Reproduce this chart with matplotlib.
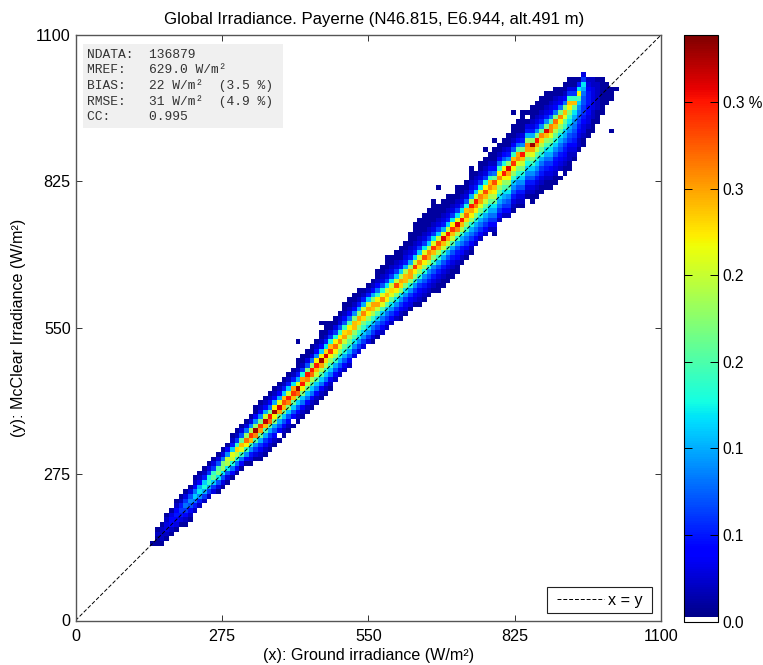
import numpy as np
import matplotlib
matplotlib.use("Agg")
import matplotlib.pyplot as plt
from matplotlib.colors import ListedColormap

plt.rcParams['font.family'] = ['Liberation Sans', 'DejaVu Sans']

bin_w = 8.8
n_bins = 125
first_col = 16

# offset of first cell from the diagonal, one per column
col_lo = [0, -1, -2, -2, -2, -2, -2, -3, -3, -2, -2, -2, -2, -2, -3, -3, -3, -3, -3, -3,
          -3, -4, -4, -5, -5, -5, -5, -5, -5, -5, -5, -5, -5, -5, -5, -5, -5, -5, -5,
          -4, -4, -4, -4, -3, -3, -3, -3, -4, -4, -4, -4, -4, -4, -5, -5, -5, -5,
          -6, -6, -6, -6, -7, -7, -7, -7, -7, -6, -6, -6, -5, -5, -5, -5, -7, -5, -5, -6,
          -6, -6, -7, -6, -8, -8, -8, -8, -9, -9, -9, -9, -9, -8, -7, -7, -6, -6, -5, -4,
          -3, -3, -2]

# cell values per column, in 0.01 %, bottom to top
col_vals = [
    [1], [1, 1, 2, 1], [1, 2, 2, 2, 1], [1, 2, 3, 3, 2, 1], [1, 2, 4, 4, 3, 1],
    [1, 3, 4, 5, 4, 2, 1], [1, 3, 5, 6, 5, 2, 1], [1, 2, 4, 6, 8, 6, 3, 1], [1, 2, 4, 7, 9, 7, 3, 1],
    [2, 5, 8, 11, 8, 4, 2, 1], [2, 5, 9, 12, 10, 4, 2, 1], [2, 6, 10, 13, 11, 5, 2, 1],
    [2, 6, 10, 14, 13, 6, 3, 1], [3, 6, 11, 16, 14, 6, 3, 1], [1, 3, 7, 12, 17, 15, 7, 3, 1],
    [1, 3, 7, 12, 18, 17, 8, 3, 1], [1, 3, 7, 12, 19, 20, 9, 4, 1], [1, 4, 8, 13, 20, 21, 11, 5, 2, 1],
    [1, 4, 8, 13, 19, 23, 14, 6, 2, 1], [1, 4, 8, 14, 21, 24, 16, 7, 3, 1], [1, 4, 9, 14, 22, 27, 18, 8, 3, 1],
    [1, 3, 5, 9, 14, 24, 29, 19, 9, 3, 1], [1, 3, 6, 9, 15, 26, 33, 18, 9, 4, 1, 1],
    [1, 2, 4, 6, 10, 16, 25, 29, 17, 9, 4, 2, 1], [1, 2, 4, 6, 10, 15, 24, 32, 20, 10, 4, 2, 1],
    [1, 2, 4, 6, 10, 16, 27, 30, 17, 8, 4, 2, 1], [1, 2, 4, 7, 10, 17, 22, 33, 22, 10, 4, 2, 1],
    [1, 2, 4, 7, 10, 16, 25, 31, 21, 10, 4, 2, 1], [1, 2, 4, 7, 11, 17, 24, 28, 24, 11, 5, 2, 1],
    [1, 2, 4, 7, 11, 17, 26, 30, 20, 11, 5, 2, 1], [1, 2, 4, 7, 11, 16, 24, 29, 25, 12, 5, 2, 1],
    [1, 2, 4, 7, 11, 17, 27, 33, 21, 10, 5, 2, 1, 1], [1, 2, 4, 8, 11, 17, 22, 30, 25, 13, 6, 2, 1, 1],
    [1, 2, 4, 8, 11, 16, 20, 26, 30, 17, 7, 3, 1, 1], [1, 2, 4, 8, 11, 15, 19, 27, 30, 18, 8, 3, 1, 1],
    [1, 2, 4, 8, 11, 15, 20, 24, 30, 22, 9, 4, 2, 1], [1, 2, 4, 8, 11, 15, 19, 25, 33, 22, 11, 4, 2, 1, 1],
    [1, 2, 4, 8, 11, 14, 19, 23, 31, 23, 12, 5, 2, 1, 1], [1, 2, 4, 8, 11, 14, 18, 22, 29, 24, 13, 6, 3, 1, 1],
    [2, 4, 7, 10, 14, 18, 22, 27, 22, 13, 6, 3, 1, 1], [2, 4, 7, 10, 13, 17, 21, 26, 22, 14, 7, 3, 2, 1],
    [2, 4, 7, 10, 13, 16, 20, 25, 23, 14, 7, 4, 2, 1, 1], [2, 4, 7, 10, 13, 16, 19, 24, 22, 15, 8, 4, 2, 1, 1],
    [3, 6, 9, 12, 15, 18, 24, 24, 17, 9, 4, 2, 1, 1], [3, 6, 9, 12, 14, 18, 23, 25, 18, 10, 5, 2, 1, 1],
    [3, 6, 9, 11, 14, 17, 23, 26, 20, 10, 5, 2, 1], [3, 6, 9, 11, 14, 18, 22, 25, 20, 11, 5, 2, 1],
    [1, 3, 6, 8, 11, 14, 19, 24, 25, 17, 10, 4, 2, 1], [1, 3, 6, 8, 11, 15, 20, 25, 22, 14, 8, 4, 2, 1, 1],
    [2, 4, 6, 8, 11, 15, 21, 26, 21, 13, 7, 3, 2, 1, 1], [2, 4, 6, 8, 11, 16, 22, 24, 20, 12, 6, 3, 2, 1, 1, 1],
    [2, 4, 6, 9, 12, 16, 21, 23, 20, 12, 6, 3, 2, 1, 1], [2, 4, 6, 9, 12, 17, 22, 28, 20, 11, 6, 3, 2, 1, 1],
    [1, 2, 4, 6, 9, 12, 18, 23, 25, 19, 11, 5, 3, 1, 1, 1], [1, 3, 4, 6, 9, 12, 17, 24, 24, 19, 10, 5, 3, 2, 1, 1],
    [1, 3, 4, 6, 9, 13, 18, 25, 25, 18, 10, 5, 3, 2, 1, 1, 1], [1, 3, 4, 6, 9, 13, 18, 22, 29, 20, 11, 5, 3, 2, 1, 1, 1, 1],
    [1, 2, 3, 4, 6, 9, 13, 18, 23, 26, 20, 11, 6, 3, 2, 1, 1, 1, 1],
    [1, 2, 3, 5, 7, 9, 13, 18, 22, 28, 21, 12, 6, 3, 2, 1, 1, 1, 1],
    [1, 2, 3, 5, 7, 9, 13, 19, 25, 26, 19, 11, 6, 3, 2, 1, 1, 1, 1],
    [1, 2, 3, 5, 7, 9, 14, 18, 24, 29, 21, 12, 6, 3, 2, 1, 1, 1, 1],
    [1, 1, 2, 3, 5, 7, 10, 14, 19, 25, 28, 20, 11, 6, 3, 2, 1, 1, 1],
    [1, 1, 2, 3, 5, 7, 10, 14, 20, 24, 31, 21, 10, 5, 3, 2, 1, 1, 1],
    [1, 1, 2, 3, 5, 7, 10, 15, 20, 25, 30, 20, 11, 5, 3, 2, 1, 1, 1],
    [1, 1, 2, 3, 5, 7, 10, 15, 20, 24, 29, 22, 12, 6, 3, 2, 1, 1],
    [1, 1, 2, 4, 5, 7, 10, 14, 19, 26, 31, 21, 12, 6, 3, 2, 1, 1, 1],
    [1, 2, 4, 5, 8, 10, 14, 19, 24, 30, 20, 12, 6, 3, 2, 1, 1],
    [1, 2, 4, 6, 8, 10, 14, 18, 23, 27, 24, 13, 7, 3, 2, 1, 1],
    [1, 2, 4, 6, 8, 10, 13, 18, 22, 25, 30, 19, 10, 5, 3, 2, 1, 1],
    [2, 4, 6, 8, 10, 13, 17, 22, 26, 30, 20, 11, 5, 3, 2, 1],
    [2, 4, 6, 8, 10, 13, 17, 21, 25, 26, 21, 12, 6, 3, 2, 1, 1],
    [2, 4, 6, 8, 10, 13, 16, 20, 24, 28, 22, 13, 6, 3, 2, 1, 1],
    [2, 4, 6, 8, 10, 12, 16, 19, 23, 26, 24, 14, 7, 4, 2, 1, 1],
    [1, 2, 4, 6, 8, 10, 12, 16, 19, 22, 24, 28, 16, 8, 4, 2, 1, 1, 1],
    [2, 4, 6, 8, 10, 12, 15, 18, 22, 26, 22, 14, 8, 4, 2, 1, 1],
    [2, 4, 6, 8, 10, 12, 15, 18, 22, 30, 22, 13, 7, 4, 2, 1, 1],
    [2, 4, 6, 7, 9, 12, 15, 18, 22, 25, 31, 18, 9, 5, 3, 1, 1, 1],
    [1, 2, 3, 5, 7, 9, 11, 14, 18, 22, 29, 24, 14, 7, 4, 2, 1, 1, 1],
    [1, 2, 3, 5, 7, 9, 11, 14, 17, 21, 26, 25, 15, 8, 4, 2, 1, 1, 1],
    [1, 2, 3, 5, 7, 9, 11, 13, 17, 20, 24, 30, 17, 9, 5, 3, 1, 1, 1, 1, 1],
    [1, 2, 3, 5, 7, 9, 11, 13, 16, 20, 25, 26, 18, 10, 5, 3, 1, 1, 1],
    [1, 1, 2, 3, 5, 7, 9, 11, 14, 17, 21, 25, 33, 18, 10, 5, 3, 2, 1, 1, 1],
    [1, 1, 2, 3, 5, 7, 9, 11, 13, 16, 20, 25, 30, 17, 9, 5, 3, 2, 1, 1, 1],
    [1, 1, 2, 3, 5, 6, 8, 10, 13, 16, 19, 23, 26, 16, 9, 5, 3, 2, 1, 1, 1],
    [1, 1, 2, 3, 5, 6, 8, 10, 12, 15, 18, 24, 31, 17, 9, 5, 3, 2, 1, 1, 1],
    [1, 1, 2, 3, 4, 6, 8, 10, 12, 14, 17, 21, 26, 26, 15, 8, 4, 3, 2, 1, 1],
    [1, 1, 2, 3, 4, 5, 7, 9, 11, 13, 16, 19, 24, 27, 17, 8, 4, 3, 2, 1, 1],
    [1, 1, 2, 3, 4, 5, 7, 8, 10, 12, 15, 18, 22, 26, 17, 8, 4, 3, 1, 1],
    [1, 1, 2, 3, 4, 5, 6, 8, 10, 11, 14, 16, 21, 24, 17, 8, 4, 2, 1, 1],
    [1, 1, 2, 2, 3, 4, 6, 7, 9, 10, 12, 14, 17, 22, 24, 14, 6, 3, 1, 1],
    [1, 2, 3, 4, 5, 6, 7, 8, 9, 10, 12, 16, 24, 14, 6, 3, 1, 1],
    [1, 2, 2, 3, 4, 5, 6, 7, 8, 9, 11, 15, 22, 12, 5, 2],
    [1, 1, 2, 3, 3, 4, 5, 6, 6, 7, 7, 8, 10, 12, 6, 3],
    [1, 1, 2, 3, 3, 4, 4, 5, 5, 5, 4, 3, 2],
    [1, 1, 1, 2, 2, 3, 3, 3, 3, 3, 2, 2],
    [1, 1, 1, 2, 2, 2, 2, 2, 2, 1],
    [1, 1, 1, 1, 1, 1, 1, 1],
    [1, 1, 1, 1, 1],
    [1, 1, 1],
    [1],
]

# isolated cells and gaps, (column, row)
stray_cells = [(47, 59), (52, 63), (53, 63), (53, 61), (76, 89), (77, 92), (98, 91), (107, 115), (114, 111),
               (114, 104), (111, 106), (93, 108), (89, 102), (87, 100), (84, 96)]
hole_cells = [(46, 42), (43, 39), (96, 107), (109, 102), (103, 95)]

ticks = [0, 275, 550, 825, 1100]
cbar_ticks = [0.0, 0.05, 0.10, 0.15, 0.20, 0.25, 0.30]
cbar_labels = ["0.0", "0.1", "0.1", "0.2", "0.2", "0.3", "0.3 %"]
stats = ["NDATA:  136879", "MREF:   629.0 W/m²", "BIAS:   22 W/m²  (3.5 %)",
         "RMSE:   31 W/m²  (4.9 %)", "CC:     0.995"]

grid = np.zeros((n_bins, n_bins))
for k, vals in enumerate(col_vals):
    i = first_col + k
    for n, v in enumerate(vals):
        j = i + col_lo[k] + n
        grid[j, i] = v / 100.0
for i, j in stray_cells:
    grid[j, i] = 0.01
for i, j in hole_cells:
    grid[j, i] = 0.0

colors = plt.get_cmap("jet")(np.linspace(0, 1, 256))
colors[:2] = [1, 1, 1, 1]
cmap = ListedColormap(colors)

W, H = 763, 665
fig = plt.figure(figsize=(W / 100, H / 100), dpi=100)
ax = fig.add_axes([75.5 / W, (H - 620.5) / H, 585.5 / W, 585.5 / H])
cax = fig.add_axes([684 / W, (H - 621.5) / H, 34 / W, 586.5 / H])

edges = np.arange(n_bins + 1) * bin_w
mesh = ax.pcolormesh(edges, edges, grid, cmap=cmap, vmin=0, vmax=0.339)
ax.plot([0, 1100], [0, 1100], "k--", lw=0.7, dashes=(4, 2), label="x = y")

ax.set_xlim(0, 1100)
ax.set_ylim(0, 1100)
ax.set_xticks(ticks)
ax.set_yticks(ticks)
ax.tick_params(direction="in", top=True, right=True, length=4, width=0.7, labelsize=11.6, pad=3.5,
               color="#333333")
ax.tick_params(axis="x", pad=6)
ax.set_xlabel("(x): Ground irradiance (W/m²)", fontsize=11.6, labelpad=3)
ax.set_ylabel("(y): McClear Irradiance (W/m²)", fontsize=11.6, labelpad=7)
ax.set_title("Global Irradiance. Payerne (N46.815, E6.944, alt.491 m)", fontsize=12.1, pad=8, x=0.51)
for s in ax.spines.values():
    s.set_linewidth(1.0)
    s.set_color("#555555")

ax.add_patch(plt.Rectangle((14, 925), 376, 158, color="#f0f0f0", lw=0, zorder=3))
ax.text(22, 1074, "\n".join(stats), family="Liberation Mono", fontsize=9.4, color="#333333",
        va="top", ha="left", linespacing=1.34, zorder=4)

ax.add_patch(plt.Rectangle((886.7, 14), 196.3, 49, fc="white", ec="#222222", lw=0.8, zorder=4))
ax.legend(loc="center right", bbox_to_anchor=(0.9693, 0.035), fontsize=11.6, frameon=False,
          borderaxespad=0, handlelength=2.94, borderpad=0, handletextpad=0.25)

cb = fig.colorbar(mesh, cax=cax)
cb.set_ticks(cbar_ticks)
cb.set_ticklabels(cbar_labels)
cax.tick_params(direction="in", left=True, right=True, length=6, width=0.7, labelsize=11.2, pad=3.5)
cb.outline.set_linewidth(0.8)

fig.savefig("out.png", dpi=100)
